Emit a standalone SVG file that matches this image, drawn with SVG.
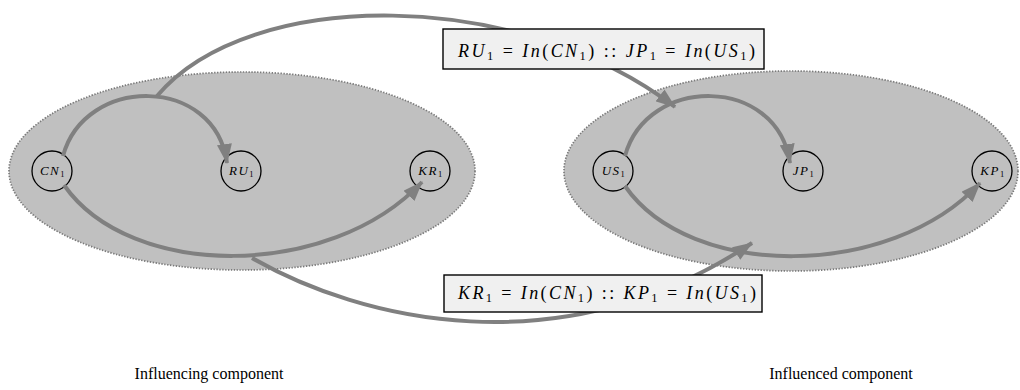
<svg xmlns="http://www.w3.org/2000/svg" width="1020" height="390" viewBox="0 0 1020 390">
<defs>
<marker id="ah" markerUnits="userSpaceOnUse" markerWidth="20" markerHeight="15" refX="19" refY="7.5" orient="auto">
<path d="M0,0 L20,7.5 L0,15 z" fill="#808080"/>
</marker>
<style>
.comp{fill:#c0c0c0;stroke:#7a7a7a;stroke-width:1.7;stroke-dasharray:1.4 1.5}
.node circle{fill:none;stroke:#000;stroke-width:1.3}
.nl{font-family:"Liberation Serif",serif;font-style:italic;font-size:13px;letter-spacing:1.5px;fill:#000}
.sub{font-size:8.5px;font-style:normal}
.edge{fill:none;stroke:#808080;stroke-width:4;marker-end:url(#ah)}
.box rect{fill:#f0f0f0;stroke:#000;stroke-width:1.4}
.math{font-family:"Liberation Serif",serif;font-size:18px;fill:#000}
.it{font-style:italic}
.cap{font-family:"Liberation Serif",serif;font-size:16px;fill:#000}
</style>
</defs>
<g id="influencing">
<ellipse class="comp" cx="242" cy="171" rx="233" ry="99"/>
</g>
<g id="influenced">
<ellipse class="comp" cx="791" cy="171" rx="227" ry="100"/>
</g>
<g id="CN1" class="node"><circle cx="52" cy="171" r="20"/><text class="nl" x="53" y="175" text-anchor="middle">CN<tspan class="sub" dy="2">1</tspan></text></g>
<g id="RU1" class="node"><circle cx="241" cy="171" r="20"/><text class="nl" x="242" y="175" text-anchor="middle">RU<tspan class="sub" dy="2">1</tspan></text></g>
<g id="KR1" class="node"><circle cx="430" cy="171" r="20"/><text class="nl" x="431" y="175" text-anchor="middle">KR<tspan class="sub" dy="2">1</tspan></text></g>
<g id="US1" class="node"><circle cx="613" cy="171" r="20"/><text class="nl" x="614" y="175" text-anchor="middle">US<tspan class="sub" dy="2">1</tspan></text></g>
<g id="JP1" class="node"><circle cx="803" cy="171" r="20"/><text class="nl" x="804" y="175" text-anchor="middle">JP<tspan class="sub" dy="2">1</tspan></text></g>
<g id="KP1" class="node"><circle cx="992" cy="171" r="20"/><text class="nl" x="993" y="175" text-anchor="middle">KP<tspan class="sub" dy="2">1</tspan></text></g>
<g id="connectors">
<path class="edge" d="M63,156 C85,75 215,75 227,163"/>
<path class="edge" d="M64,185 C130,280 330,280 422,182"/>
<path class="edge" d="M625,156 C647,75 777,75 790,163"/>
<path class="edge" d="M625,186 C690,280 890,280 980,183"/>
<path class="edge" d="M157,96 C250,-14 520,-12 675,107"/>
<path class="edge" d="M252,258 C360,320 560,370 752,243"/>
</g>
<g id="label-top" class="box">
<rect x="443" y="29" width="321" height="40"/>
<text class="math" x="458" y="57" textLength="297" lengthAdjust="spacing"><tspan class="it">RU</tspan><tspan font-size="12.5" dy="3">1</tspan><tspan dy="-3"> = </tspan><tspan class="it">In</tspan>(<tspan class="it">CN</tspan><tspan font-size="12.5" dy="3">1</tspan><tspan dy="-3">) :: </tspan><tspan class="it">JP</tspan><tspan font-size="12.5" dy="3">1</tspan><tspan dy="-3"> = </tspan><tspan class="it">In</tspan>(<tspan class="it">US</tspan><tspan font-size="12.5" dy="3">1</tspan><tspan dy="-3">)</tspan></text>
</g>
<g id="label-bottom" class="box">
<rect x="444" y="275" width="318" height="37"/>
<text class="math" x="458" y="299" textLength="298" lengthAdjust="spacing"><tspan class="it">KR</tspan><tspan font-size="12.5" dy="3">1</tspan><tspan dy="-3"> = </tspan><tspan class="it">In</tspan>(<tspan class="it">CN</tspan><tspan font-size="12.5" dy="3">1</tspan><tspan dy="-3">) :: </tspan><tspan class="it">KP</tspan><tspan font-size="12.5" dy="3">1</tspan><tspan dy="-3"> = </tspan><tspan class="it">In</tspan>(<tspan class="it">US</tspan><tspan font-size="12.5" dy="3">1</tspan><tspan dy="-3">)</tspan></text>
</g>
<g id="captions">
<text class="cap" x="209" y="379" text-anchor="middle">Influencing component</text>
<text class="cap" x="841" y="379" text-anchor="middle">Influenced component</text>
</g>
</svg>
